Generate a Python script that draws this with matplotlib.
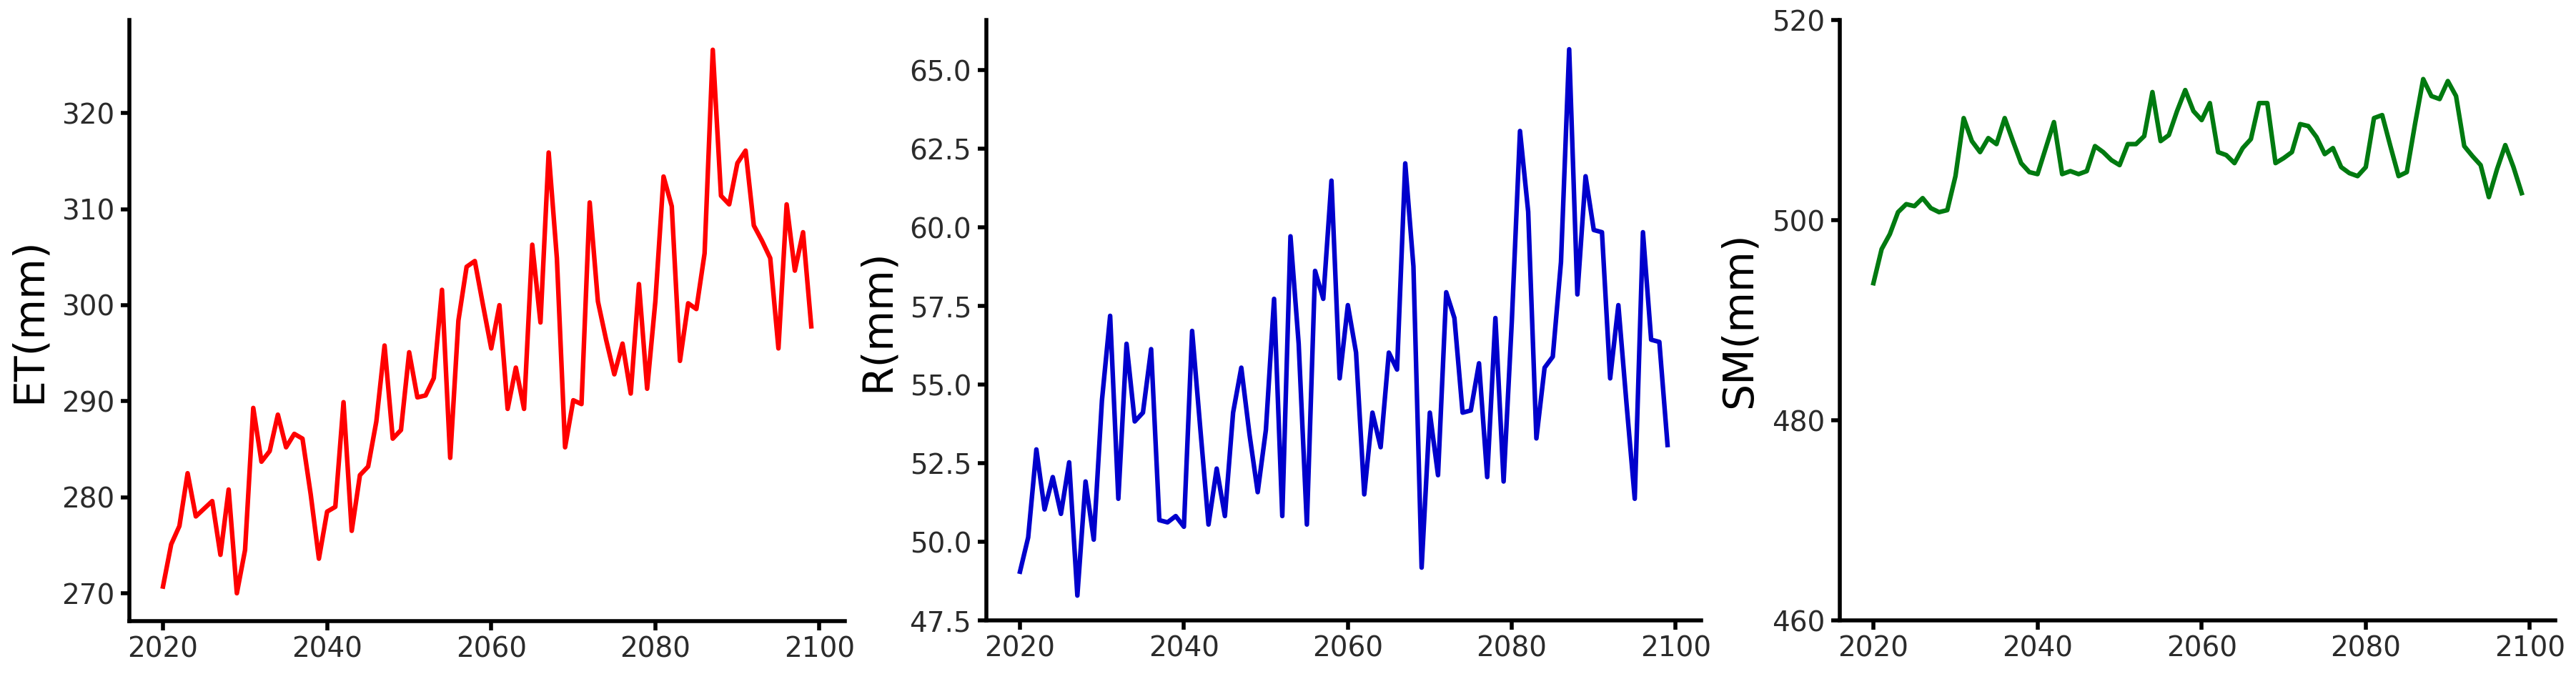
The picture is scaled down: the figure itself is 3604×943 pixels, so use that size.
import matplotlib
matplotlib.use('Agg')
import matplotlib.pyplot as plt

# ==============================================================================
# Data (annual values 2020-2099)
# ==============================================================================

years = list(range(2020, 2100))

et_mm = [
    270.7, 275.1, 277.0, 282.5, 278.0, 278.8, 279.6, 274.0, 280.8, 270.0,
    274.5, 289.3, 283.7, 284.8, 288.6, 285.2, 286.6, 286.1, 280.3, 273.6,
    278.5, 279.0, 289.9, 276.5, 282.3, 283.2, 287.9, 295.8, 286.1, 287.0,
    295.1, 290.4, 290.6, 292.4, 301.6, 284.1, 298.4, 304.0, 304.6, 300.0,
    295.5, 300.0, 289.2, 293.5, 289.2, 306.3, 298.2, 315.9, 304.9, 285.2,
    290.1, 289.7, 310.7, 300.4, 296.4, 292.8, 296.0, 290.8, 302.2, 291.3,
    300.4, 313.4, 310.3, 294.2, 300.2, 299.6, 305.4, 326.6, 311.4, 310.5,
    314.8, 316.1, 308.3, 306.7, 304.9, 295.5, 310.5, 303.6, 307.6, 297.8,
]

r_mm = [
    49.05, 50.14, 52.94, 51.03, 52.06, 50.89, 52.53, 48.29, 51.92, 50.07,
    54.5, 57.19, 51.37, 56.30, 53.83, 54.11, 56.13, 50.69, 50.62, 50.82,
    50.48, 56.71, 53.6, 50.55, 52.33, 50.82, 54.11, 55.54, 53.42, 51.58,
    53.56, 57.73, 50.82, 59.72, 56.30, 50.55, 58.62, 57.73, 61.49, 55.20,
    57.53, 56.02, 51.51, 54.11, 53.01, 56.02, 55.48, 62.04, 58.76, 49.18,
    54.11, 52.12, 57.94, 57.12, 54.11, 54.18, 55.68, 52.06, 57.12, 51.92,
    57.0, 63.07, 60.5, 53.29, 55.54, 55.89, 58.9, 65.67, 57.87, 61.63,
    59.92, 59.85, 55.20, 57.53, 54.38, 51.37, 59.85, 56.43, 56.36, 53.08,
]

sm_mm = [
    493.7, 497.1, 498.6, 500.8, 501.6, 501.4, 502.2, 501.2, 500.8, 501.0,
    504.4, 510.2, 507.9, 506.8, 508.2, 507.6, 510.2, 507.9, 505.7, 504.8,
    504.6, 507.2, 509.8, 504.6, 504.9, 504.6, 504.9, 507.4, 506.8, 506.0,
    505.5, 507.6, 507.6, 508.4, 512.8, 507.9, 508.5, 510.9, 513.0, 510.9,
    510.0, 511.7, 506.8, 506.5, 505.7, 507.2, 508.1, 511.7, 511.7, 505.7,
    506.2, 506.8, 509.6, 509.4, 508.3, 506.6, 507.2, 505.3, 504.7, 504.4,
    505.3, 510.2, 510.5, 507.4, 504.4, 504.8, 509.6, 514.1, 512.4, 512.1,
    513.9, 512.4, 507.4, 506.4, 505.5, 502.3, 505.1, 507.5, 505.3, 502.7,
]

x_ticks = [2020, 2040, 2060, 2080, 2100]
et_ticks = [270, 280, 290, 300, 310, 320]
r_ticks = [47.5, 50.0, 52.5, 55.0, 57.5, 60.0, 62.5, 65.0]
sm_ticks = [460, 480, 500, 520]

# ==============================================================================
# Panel settings
# ==============================================================================

panels = [
    # (values, colour, label, yticks, ylim, tick format, axes rect)
    (et_mm, 'red', 'ET(mm)', et_ticks, (267.1, 329.7), '{:.0f}',
     [0.0502, 0.0785, 0.2777, 0.8918]),
    (r_mm, '#0000cc', 'R(mm)', r_ticks, (47.5, 66.6), '{:.1f}',
     [0.3828, 0.0795, 0.2774, 0.8908]),
    (sm_mm, '#007a10', 'SM(mm)', sm_ticks, (460, 520), '{:.0f}',
     [0.7140, 0.0795, 0.2777, 0.8908]),
]

fig = plt.figure(figsize=(36.05, 9.43), dpi=100)

for values, colour, label, yticks, ylim, fmt, rect in panels:
    ax = fig.add_axes(rect)
    ax.plot(years, values, color=colour, linewidth=4.6)

    ax.set_xlim(2015.9, 2103.1)
    ax.set_ylim(*ylim)
    ax.set_xticks(x_ticks)
    ax.set_yticks(yticks)
    ax.set_yticklabels([fmt.format(v) for v in yticks])

    for side in ('top', 'right'):
        ax.spines[side].set_visible(False)
    for side in ('left', 'bottom'):
        ax.spines[side].set_linewidth(4.0)
        ax.spines[side].set_color('black')

    ax.tick_params(axis='both', width=4.0, length=9, labelsize=28,
                   labelcolor='#2b2b2b', pad=6)
    ax.set_ylabel(label, fontsize=42, labelpad=12)

fig.savefig('out.png', dpi=100, facecolor='white')
